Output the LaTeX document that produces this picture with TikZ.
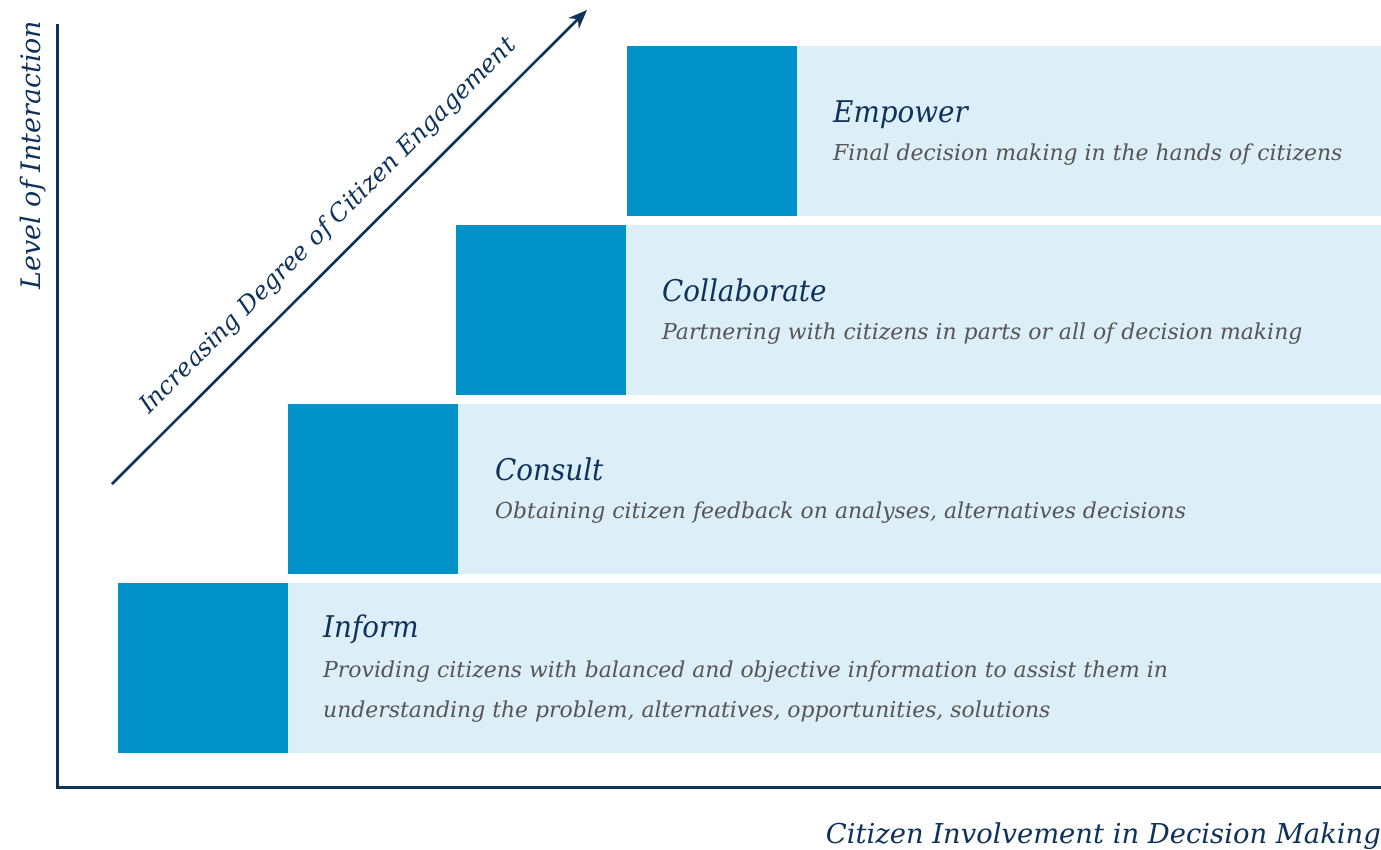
\documentclass[tikz,border=0pt]{standalone}
\usepackage{fontspec}
\setmainfont{DejaVu Serif}
\newfontfamily\ttlfont{DejaVu Serif}[FakeStretch=0.93]
\usetikzlibrary{arrows.meta}
\definecolor{cdark}{RGB}{0,146,200}
\definecolor{clight}{RGB}{220,238,247}
\definecolor{navy}{RGB}{14,50,90}
\definecolor{cgray}{RGB}{85,85,85}
\tikzset{
  darksq/.style={fill=cdark, draw=none, inner sep=0, minimum width=170bp, minimum height=170bp, anchor=north west},
  lightbar/.style={fill=clight, draw=none, inner sep=0, minimum height=170bp, anchor=north west},
  ttl/.style={font=\fontsize{30}{36}\ttlfont\itshape, text=navy, anchor=base west, inner sep=0},
  dsc/.style={font=\fontsize{22}{26}\selectfont\itshape, text=cgray, anchor=base west, inner sep=0},
  axlbl/.style={font=\fontsize{27.5}{32}\selectfont\itshape, text=navy, inner sep=0},
  axis/.style={draw=navy, line width=3bp, line join=miter},
}
\begin{document}
\begin{tikzpicture}[x=1bp, y=-1bp]
\useasboundingbox (0,0) rectangle (1381,849);
% light bars
\node[lightbar, minimum width=1093bp] (infbar) at (288,583) {};
\node[lightbar, minimum width=923bp] (conbar) at (458,404) {};
\node[lightbar, minimum width=755bp] (colbar) at (626,225) {};
\node[lightbar, minimum width=584bp] (empbar) at (797,46) {};
% dark squares
\node[darksq] (infsq) at (118,583) {};
\node[darksq] (consq) at (288,404) {};
\node[darksq] (colsq) at (456,225) {};
\node[darksq] (empsq) at (627,46) {};
% texts
\node[ttl] (emptl) at (833,122) {Empower};
\node[dsc] (empds) at (833,160) {Final decision making in the hands of citizens};
\node[ttl] (coltl) at (662,301) {Collaborate};
\node[dsc] (colds) at (662,339) {Partnering with citizens in parts or all of decision making};
\node[ttl] (contl) at (495,480) {Consult};
\node[dsc] (conds) at (495,518) {Obtaining citizen feedback on analyses, alternatives decisions};
\node[ttl] (inftl) at (323,637) {Inform};
\node[dsc] (infds1) at (323,677) {Providing citizens with balanced and objective information to assist them in};
\node[dsc] (infds2) at (323,717) {understanding the problem, alternatives, opportunities, solutions};
% axes
\coordinate (ytop) at (57,24);
\coordinate (orig) at (57,787);
\coordinate (xend) at (1381,787);
\draw[axis] (ytop) -- (orig) -- (xend);
\node[axlbl, font=\fontsize{27}{32}\selectfont\itshape, anchor=base, rotate=90] (ylbl) at (40,155) {Level of Interaction};
\node[axlbl, anchor=base east] (xlbl) at (1381,843) {Citizen Involvement in Decision Making};
% diagonal arrow
\coordinate (astart) at (112,484);
\coordinate (aend) at (587,10);
\draw[navy, line width=2.6bp, -{Stealth[length=19bp, width=15bp]}] (astart) -- (aend);
\node[axlbl, font=\fontsize{24.5}{30}\selectfont\itshape, anchor=base, rotate=45] (dlbl) at (333,231) {Increasing Degree of Citizen Engagement};
\end{tikzpicture}
\end{document}
